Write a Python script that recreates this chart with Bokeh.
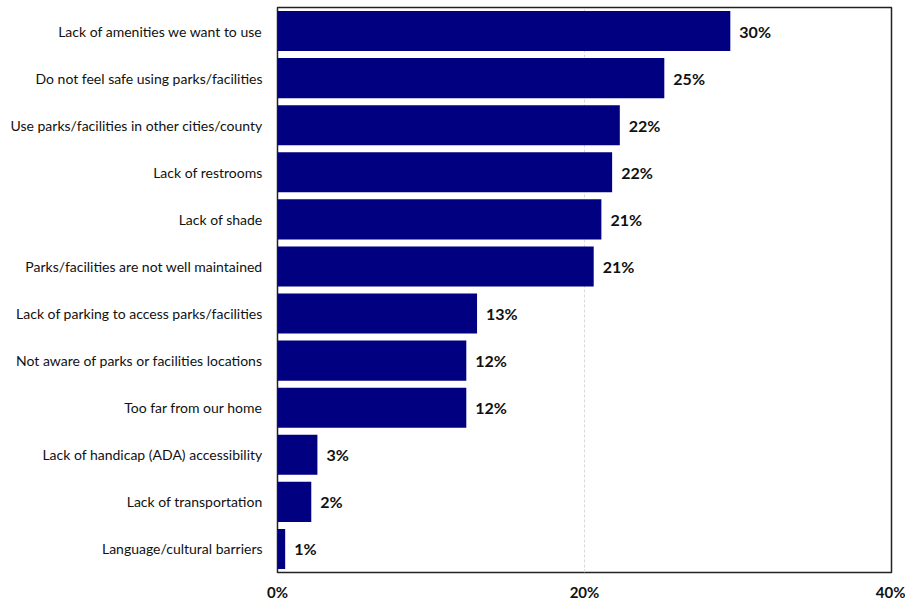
from bokeh.plotting import figure
from bokeh.models import ColumnDataSource, FactorRange, Range1d, FixedTicker, PrintfTickFormatter
from bokeh.core.properties import value
from bokeh.embed import file_html
from bokeh.resources import INLINE

categories = [
    "Lack of amenities we want to use",
    "Do not feel safe using parks/facilities",
    "Use parks/facilities in other cities/county",
    "Lack of restrooms",
    "Lack of shade",
    "Parks/facilities are not well maintained",
    "Lack of parking to access parks/facilities",
    "Not aware of parks or facilities locations",
    "Too far from our home",
    "Lack of handicap (ADA) accessibility",
    "Lack of transportation",
    "Language/cultural barriers",
]
values = [29.5, 25.2, 22.3, 21.8, 21.1, 20.6, 13.0, 12.3, 12.3, 2.6, 2.2, 0.5]
labels = ["30%", "25%", "22%", "22%", "21%", "21%", "13%", "12%", "12%", "3%", "2%", "1%"]
x_ticks = [0, 20, 40]

FONT = "Lato"

src = ColumnDataSource(dict(cat=categories, val=values, lab=labels))

p = figure(
    y_range=FactorRange(factors=list(reversed(categories)), range_padding=0),
    x_range=Range1d(0, 40),
    width=905, height=603,
    output_backend="svg", toolbar_location=None,
    min_border_left=277, min_border_right=14, min_border_top=7, min_border_bottom=10,
)

p.hbar(y="cat", right="val", height=0.85, source=src, fill_color="#000080", line_color=None)
p.text(x="val", y="cat", text="lab", source=src, x_offset=9, text_baseline="middle",
       text_font=value(FONT), text_font_style="bold", text_font_size="16px", text_color="#111111")

p.outline_line_color="#222222"
p.outline_line_width=1.5

p.xaxis.ticker = FixedTicker(ticks=x_ticks)
p.xaxis.formatter = PrintfTickFormatter(format="%d%%")
p.xaxis.major_tick_line_color = None
p.xaxis.minor_tick_line_color = None
p.xaxis.axis_line_color = None
p.xaxis.major_label_text_font = FONT
p.xaxis.major_label_text_font_style = "bold"
p.xaxis.major_label_text_font_size = "15px"
p.xaxis.major_label_text_color = "#111111"
p.xaxis.major_label_standoff = 4

p.yaxis.major_tick_line_color = None
p.yaxis.minor_tick_line_color = None
p.yaxis.axis_line_color = None
p.yaxis.major_label_text_font = FONT
p.yaxis.major_label_text_font_size = "14px"
p.yaxis.major_label_text_color = "#111111"
p.yaxis.major_label_standoff = 9

p.ygrid.grid_line_color = None
p.xgrid.ticker = FixedTicker(ticks=[20])
p.xgrid.grid_line_color = "#d9d9d9"
p.xgrid.grid_line_dash = "3 2"
p.xgrid.grid_line_width = 1

open("out.html", "w").write(file_html(p, INLINE))
